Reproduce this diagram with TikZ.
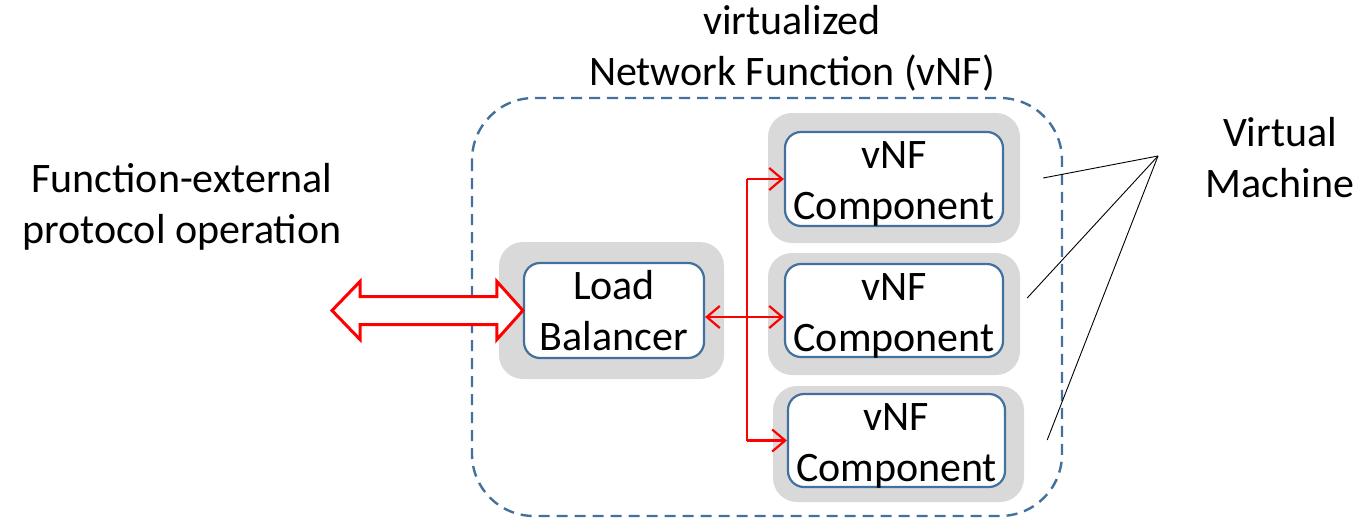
\documentclass[tikz,border=0pt]{standalone}
\usepackage{fontspec}
\setmainfont{Carlito}
\usetikzlibrary{arrows.meta,calc}
\definecolor{vnfblue}{HTML}{41719C}
\definecolor{vmgray}{HTML}{D9D9D9}
\definecolor{flowred}{HTML}{FF0000}
\begin{document}
\begin{tikzpicture}[x=1pt,y=-1pt,
  lbl/.style={font=\fontsize{42}{51}\selectfont, align=center, inner sep=0pt},
  vmshell/.style={fill=vmgray, rounded corners=24pt, inner sep=0pt},
  unitbox/.style={lbl, draw=vnfblue, line width=2.2pt, fill=white, rounded corners=16pt},
  vnfc/.style={unitbox, label={[lbl, yshift=-5pt]center:vNF\\Component}},
  flow/.style={draw=flowred, line width=2.2pt, -{Straight Barb[length=13pt,width=22pt]}},
  bus/.style={draw=flowred, line width=1.8pt},
  pointer/.style={draw=black, line width=0.9pt},
]
\useasboundingbox (0,0) rectangle (1360,519);

% boundary of the virtualized network function
\draw[vnfblue, line width=2.4pt, dash pattern=on 11pt off 7pt, rounded corners=62pt]
  (472,98) rectangle (1062,516);

% labels
\node[lbl] (title) at (792,48) {virtualized\\Network Function (vNF)};
\node[lbl] (extlabel) at (182,207) {Function-external\\protocol operation};
\node[lbl] (vmlabel) at (1280,158) {Virtual\\Machine};

% virtual machine shells
\node[vmshell, minimum width=225pt, minimum height=137pt] (lbshell) at (611.5,310.5) {};
\node[vmshell, minimum width=252pt, minimum height=130pt] (vm1shell) at (894,178) {};
\node[vmshell, minimum width=252pt, minimum height=122pt] (vm2shell) at (894,314) {};
\node[vmshell, minimum width=251pt, minimum height=116pt] (vm3shell) at (898.5,444) {};

% functional units
\node[unitbox, minimum width=180pt, minimum height=95pt] (lb) at (614,310.5) {Load\\Balancer};
\node[vnfc, minimum width=218pt, minimum height=94pt] (vm1) at (894,179) {};
\node[vnfc, minimum width=218pt, minimum height=93pt] (vm2) at (894,310.5) {};
\node[vnfc, minimum width=217pt, minimum height=93pt] (vm3) at (896.5,440.5) {};

% external protocol block arrow
\coordinate (ext) at (332,310.5);
\draw[flowred, line width=3pt, fill=white, line join=miter]
  (ext) -- ($(ext)+(28,-29)$) -- ($(ext)+(28,-14)$)
  -- ($(lb.west)+(-26,-14)$) -- ($(lb.west)+(-26,-29)$) -- (lb.west)
  -- ($(lb.west)+(-26,29)$) -- ($(lb.west)+(-26,14)$)
  -- ($(ext)+(28,14)$) -- ($(ext)+(28,29)$) -- cycle;

% internal distribution from the load balancer
\coordinate (split) at (747,317);
\draw[bus] (split |- vm1.west) -- (split |- vm3.west);
\draw[flow] (split |- vm1.west) -- (vm1.west);
\draw[flow] (split |- vm3.west) -- (vm3.west);
\draw[flow, {Straight Barb[length=13pt,width=22pt]}-{Straight Barb[length=13pt,width=22pt]}]
  (lb.east |- split) -- (vm2.west |- split);

% pointers to the virtual machines
\coordinate (vmtip) at (1158,156);
\draw[pointer] (vmtip) -- ($(vm1shell.east)+(23,0)$);
\draw[pointer] (vmtip) -- ($(vm2shell.east)+(7,-16)$);
\draw[pointer] (vmtip) -- ($(vm3shell.east)+(23,-4)$);
\end{tikzpicture}
\end{document}
